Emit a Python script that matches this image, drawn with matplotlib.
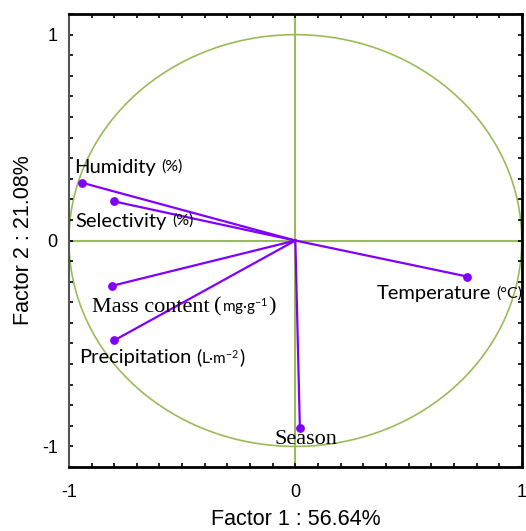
import numpy as np
import matplotlib
matplotlib.use("Agg")
import matplotlib.pyplot as plt
from matplotlib.ticker import MultipleLocator

# Data
names = ["Humidity", "Selectivity", "Mass content", "Precipitation", "Temperature", "Season"]
units = ["%", "%", "mg\u00b7g$^{-1}$", "L\u00b7m$^{-2}$", "\u00b0C", ""]
fx = [-0.94, -0.80, -0.81, -0.80, 0.76, 0.02]
fy = [0.28, 0.19, -0.22, -0.485, -0.175, -0.91]
label_x = [-0.976, -0.97, -0.896, -0.954, 0.358, -0.093]
label_y = [0.33, 0.068, -0.345, -0.597, -0.286, -0.99]
serif_flags = [False, False, True, False, False, True]
xlabel = "Factor 1 : 56.64%"
ylabel = "Factor 2 : 21.08%"
ticks = [-1, 0, 1]

plt.rcParams['mathtext.fontset'] = 'custom'
plt.rcParams['mathtext.rm'] = 'Lato'
plt.rcParams['mathtext.it'] = 'Lato'

fig = plt.figure(figsize=(5.26, 5.31), dpi=100)
ax = fig.add_axes([0.131, 0.1205, 0.861, 0.853])

green = "#9BBB59"
purple = "#8000FF"

t = np.linspace(0, 2 * np.pi, 400)
ax.plot(np.cos(t), np.sin(t), color=green, lw=1.2, zorder=1)
ax.axhline(0, color=green, lw=1.5, zorder=1)
ax.axvline(0, color=green, lw=1.5, zorder=1)

for x, y in zip(fx, fy):
    ax.plot([0, x], [0, y], color=purple, lw=1.6, zorder=3)
ax.scatter(fx, fy, s=28, color=purple, zorder=4)


def after(prev, s, fam, size, dx=0, va="bottom", yref=0):
    return ax.annotate(s, xy=(1, yref), xycoords=prev, xytext=(dx, 0),
                       textcoords="offset points", va=va, ha="left",
                       fontfamily=fam, fontsize=size, zorder=5)


for n, u, lx, ly, sf in zip(names, units, label_x, label_y, serif_flags):
    fam = "Liberation Serif" if sf else "Lato"
    size = 16 if sf else 14.5
    txt = ax.text(lx, ly, n, fontfamily=fam, fontsize=size,
                  va="baseline", ha="left", zorder=5)
    if not u:
        continue
    if "$" in u:
        p1 = after(txt, "(", fam, size, dx=3)
        p2 = after(p1, u, "Lato", 11, va="center", yref=0.5)
        after(p2, ")", fam, size, va="center", yref=0.5)
    else:
        ax.annotate("(" + u + ")", xy=(1, 0), xycoords=txt, xytext=(4, 1),
                    textcoords="offset points", va="bottom", ha="left",
                    fontfamily="Lato", fontsize=11.5, zorder=5)

ax.set_xlim(-1, 1)
ax.set_ylim(-1.1, 1.1)
ax.set_xticks(ticks)
ax.set_yticks(ticks)
ax.set_xticklabels([str(v) for v in ticks], fontfamily="Liberation Sans", fontsize=13)
ax.set_yticklabels([str(v) for v in ticks], fontfamily="Liberation Sans", fontsize=13)
ax.xaxis.set_minor_locator(MultipleLocator(0.1))
ax.yaxis.set_minor_locator(MultipleLocator(0.1))
ax.tick_params(which="both", direction="in", top=True, right=True, length=3, width=1.2)
ax.tick_params(axis="x", pad=12)
ax.tick_params(axis="y", pad=8)
ax.set_xlabel(xlabel, fontfamily="Liberation Sans", fontsize=15.5, labelpad=6)
ax.set_ylabel(ylabel, fontfamily="Liberation Sans", fontsize=15.5, labelpad=6)

for side in ["top", "right", "bottom"]:
    ax.spines[side].set_linewidth(2)
    ax.spines[side].set_color("black")
ax.spines["left"].set_linewidth(1.5)
ax.spines["left"].set_color("#555555")

fig.savefig("out.png", dpi=100)
